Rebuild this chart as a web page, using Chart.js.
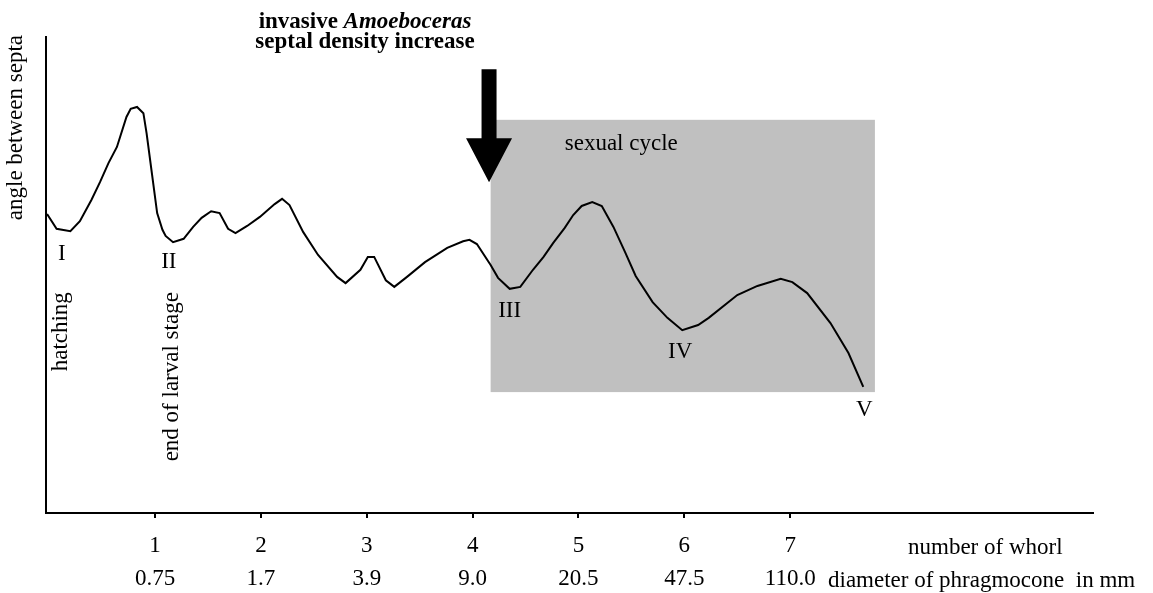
<!DOCTYPE html>
<html lang="en">
<head>
<meta charset="UTF-8">
<title>Septal angle</title>
<script src="https://cdn.jsdelivr.net/npm/chart.js@4/dist/chart.umd.min.js"></script>
<style>
  html, body { margin: 0; padding: 0; background: #fff; }
</style>
</head>
<body>
<canvas id="septa" width="1153" height="593"></canvas>
<script>
// curve: position along the shell (whorl number) and angle between septa (relative units)
const whorl = [-0.02, 0.07, 0.20, 0.29, 0.40, 0.48, 0.56, 0.64, 0.73, 0.77, 0.83, 0.89, 0.92, 0.97, 1.02, 1.07, 1.10, 1.17,
  1.27, 1.36, 1.44, 1.53, 1.61, 1.69, 1.76, 1.87, 1.99, 2.13, 2.20, 2.27, 2.40, 2.54, 2.72, 2.80, 2.94, 3.01, 3.07, 3.18,
  3.26, 3.38, 3.55, 3.76, 3.91, 3.97, 4.04, 4.17, 4.24, 4.35, 4.45, 4.57, 4.67, 4.76, 4.87, 4.95, 5.03, 5.13, 5.22, 5.33,
  5.44, 5.54, 5.70, 5.84, 5.98, 6.13, 6.23, 6.50, 6.69, 6.91, 7.02, 7.16, 7.38, 7.55, 7.69];
const septaAngle = [62.8, 59.7, 59.2, 61.3, 65.8, 69.5, 73.5, 76.9, 83.2, 84.9, 85.3, 84.0, 79.8, 71.4, 63.0, 59.5, 58.2, 56.9,
  57.6, 60.1, 62.0, 63.4, 63.0, 59.7, 58.8, 60.3, 62.2, 64.9, 66.0, 64.7, 59.0, 54.2, 49.6, 48.3, 51.1, 53.8, 53.8, 48.9,
  47.5, 49.6, 52.7, 55.7, 57.1, 57.4, 56.5, 52.1, 49.4, 47.1, 47.5, 51.1, 53.8, 56.7, 59.9, 62.6, 64.5, 65.3, 64.5, 60.1,
  54.8, 49.8, 44.3, 41.0, 38.4, 39.5, 41.0, 45.8, 47.7, 49.2, 48.5, 46.2, 39.9, 33.6, 26.5];

const whorlTicks = [1, 2, 3, 4, 5, 6, 7];
const diameterMm = ['0.75', '1.7', '3.9', '9.0', '20.5', '47.5', '110.0'];

// turning points I..V
const stageNames = ['I', 'II', 'III', 'IV', 'V'];
const stageX = [0.12, 1.13, 4.35, 5.96, 7.70];
const stageY = [54.4, 52.7, 42.4, 33.8, 21.6];

// sexual cycle band and the arrow, in data units
const cycleFrom = 4.17, cycleTo = 7.80, cycleLow = 25.4, cycleHigh = 82.6;
const arrowAt = 4.155, arrowTipY = 69.5;

const serif = '"Liberation Serif", "Times New Roman", serif';
const ctx = document.getElementById('septa').getContext('2d');

const decor = {
  id: 'decor',
  beforeDatasetsDraw(chart) {
    const { ctx, scales: { x, y } } = chart;
    ctx.save();
    ctx.fillStyle = '#c0c0c0';
    const x0 = x.getPixelForValue(cycleFrom), x1 = x.getPixelForValue(cycleTo);
    const y0 = y.getPixelForValue(cycleHigh), y1 = y.getPixelForValue(cycleLow);
    ctx.fillRect(x0, y0, x1 - x0, y1 - y0);
    ctx.fillStyle = '#000';
    ctx.font = '23px ' + serif;
    ctx.textBaseline = 'alphabetic';
    ctx.textAlign = 'left';
    ctx.fillText('sexual cycle', x.getPixelForValue(4.87), y.getPixelForValue(76.2));
    ctx.restore();
  },
  afterDraw(chart) {
    const { ctx, scales: { x, y } } = chart;
    ctx.save();
    ctx.fillStyle = '#000';

    // arrow
    const tx = x.getPixelForValue(arrowAt), ty = y.getPixelForValue(arrowTipY);
    ctx.beginPath();
    ctx.moveTo(tx - 7.5, ty - 113);
    ctx.lineTo(tx + 7.5, ty - 113);
    ctx.lineTo(tx + 7.5, ty - 44);
    ctx.lineTo(tx + 23, ty - 44);
    ctx.lineTo(tx, ty);
    ctx.lineTo(tx - 23, ty - 44);
    ctx.lineTo(tx - 7.5, ty - 44);
    ctx.closePath();
    ctx.fill();

    // stage numerals
    ctx.font = '23px ' + serif;
    ctx.textAlign = 'center';
    ctx.textBaseline = 'middle';
    stageNames.forEach((s, i) => ctx.fillText(s, x.getPixelForValue(stageX[i]), y.getPixelForValue(stageY[i])));

    // vertical notes
    ctx.textBaseline = 'alphabetic';
    ctx.textAlign = 'right';
    [['hatching', 0.17], ['end of larval stage', 1.22]].forEach(([t, v]) => {
      ctx.save();
      ctx.translate(x.getPixelForValue(v), y.getPixelForValue(46.4));
      ctx.rotate(-Math.PI / 2);
      ctx.fillText(t, 0, 0);
      ctx.restore();
    });

    // y axis title
    ctx.save();
    ctx.translate(22, 35);
    ctx.rotate(-Math.PI / 2);
    ctx.fillText('angle between septa', 0, 0);
    ctx.restore();

    // x axis names
    ctx.textAlign = 'left';
    ctx.fillText('number of whorl', 908, 554);
    ctx.fillText('diameter of phragmocone  in mm', 828, 587);

    // heading
    ctx.font = 'bold 23px ' + serif;
    const w1 = ctx.measureText('invasive ').width;
    ctx.font = 'italic bold 23px ' + serif;
    const w2 = ctx.measureText('Amoeboceras').width;
    const cx = 365;
    let sx = cx - (w1 + w2) / 2;
    ctx.font = 'bold 23px ' + serif;
    ctx.fillText('invasive ', sx, 28);
    ctx.font = 'italic bold 23px ' + serif;
    ctx.fillText('Amoeboceras', sx + w1, 28);
    ctx.font = 'bold 23px ' + serif;
    ctx.textAlign = 'center';
    ctx.fillText('septal density increase', cx, 48);
    ctx.restore();
  }
};

new Chart(ctx, {
  type: 'line',
  data: {
    datasets: [{
      data: whorl.map((w, i) => ({ x: w, y: septaAngle[i] })),
      borderColor: '#000',
      borderWidth: 2,
      pointRadius: 0,
      tension: 0,
      fill: false
    }]
  },
  options: {
    responsive: false,
    animation: false,
    devicePixelRatio: 1,
    layout: { padding: { top: 37, right: 60, left: 0, bottom: 0 } },
    plugins: { legend: { display: false }, tooltip: { enabled: false } },
    scales: {
      x: {
        type: 'linear',
        min: -0.03,
        max: 9.86,
        afterBuildTicks: s => { s.ticks = whorlTicks.map(v => ({ value: v })); },
        afterFit: s => { s.height = 80; },
        grid: { drawOnChartArea: false, tickLength: 5, color: '#000', lineWidth: 2 },
        border: { color: '#000', width: 2 },
        ticks: {
          autoSkip: false,
          maxRotation: 0,
          padding: 11,
          color: '#000',
          font: { family: serif, size: 23, lineHeight: '33px' },
          callback: (v) => [String(v), diameterMm[whorlTicks.indexOf(v)]]
        }
      },
      y: {
        min: 0,
        max: 100,
        afterFit: s => { s.width = 46; },
        grid: { display: false },
        border: { color: '#000', width: 2 },
        ticks: { display: false }
      }
    }
  },
  plugins: [decor]
});
</script>
</body>
</html>
